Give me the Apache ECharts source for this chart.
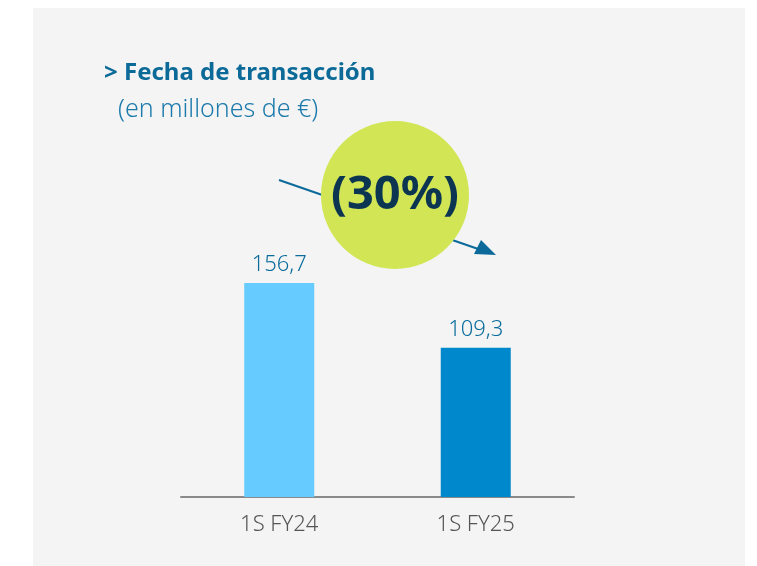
<!DOCTYPE html>
<html>
<head>
<meta charset="utf-8">
<script src="https://cdn.jsdelivr.net/npm/echarts@6/dist/echarts.min.js"></script>
<style>
  html, body { margin: 0; padding: 0; background: #fff; }
  #chart { width: 757px; height: 566px; }
</style>
</head>
<body>
<div id="chart"></div>
<script>
// datos del gráfico
const categories = ['1S FY24', '1S FY25'];
const values = [156.7, 109.3];
const barColors = ['#66ccff', '#0088cc'];
const changeLabel = '(30%)';

const font = '"Noto Sans", "Open Sans", sans-serif';

let myChart = echarts.init(document.getElementById('chart'));
myChart.setOption({
  animation: false,
  backgroundColor: '#ffffff',
  grid: {
    left: 181,
    right: 183,
    top: 224,
    bottom: 69
  },
  xAxis: {
    type: 'category',
    data: categories,
    axisLine: { lineStyle: { color: '#8a8a8a', width: 2 } },
    axisTick: { show: false },
    axisLabel: {
      color: '#555555',
      fontFamily: font,
      fontSize: 22,
      fontWeight: 300,
      margin: 17
    }
  },
  yAxis: {
    type: 'value',
    min: 0,
    max: 200,
    show: false,
    splitLine: { show: false }
  },
  series: [{
    type: 'bar',
    barWidth: 70,
    data: values.map((v, i) => ({ value: v, itemStyle: { color: barColors[i] } })),
    label: {
      show: true,
      position: 'top',
      distance: 7,
      color: '#0b6c9c',
      fontFamily: font,
      fontSize: 22,
      fontWeight: 300,
      formatter: p => String(p.value).replace('.', ',')
    }
  }],
  graphic: [
    // panel gris de fondo
    {
      type: 'rect', z: -10, silent: true,
      shape: { x: 33, y: 8, width: 712, height: 560 },
      style: { fill: '#f4f4f4' }
    },
    {
      type: 'text', left: 104, top: 61,
      style: {
        text: '> Fecha de transacción',
        fill: '#0b6a98',
        font: 'bold 24px ' + font
      }
    },
    {
      type: 'text', left: 118, top: 97,
      style: {
        text: '(en millones de €)',
        fill: '#1b7aab',
        font: '300 25px ' + font
      }
    },
    // flecha
    {
      type: 'line', z: 5,
      shape: { x1: 279, y1: 180, x2: 484, y2: 251 },
      style: { stroke: '#0b6a9a', lineWidth: 2 }
    },
    {
      type: 'polygon', z: 5,
      shape: { points: [[496, 255], [474, 254], [481, 240]] },
      style: { fill: '#0b6a9a' }
    },
    // círculo
    {
      type: 'circle', z: 10,
      shape: { cx: 395, cy: 195, r: 74 },
      style: { fill: '#d2e655' }
    },
    {
      type: 'text', z: 11,
      x: 395, y: 196,
      style: {
        text: changeLabel,
        fill: '#0c3552',
        font: 'bold 47px ' + font,
        align: 'center',
        verticalAlign: 'middle'
      }
    }
  ]
});
</script>
</body>
</html>
